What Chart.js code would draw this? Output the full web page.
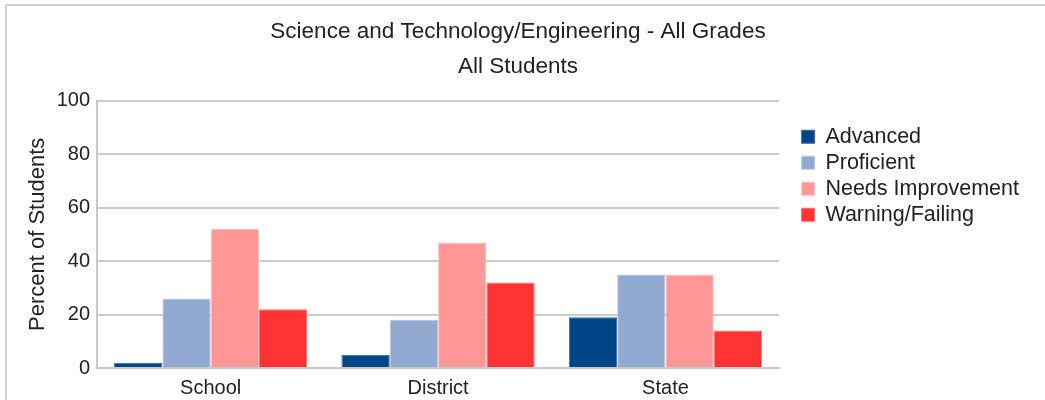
<!DOCTYPE html>
<html>
<head>
<meta charset="utf-8">
<script src="https://cdn.jsdelivr.net/npm/chart.js@4"></script>
<style>
  body { margin: 0; background: #fff; overflow: hidden; }
  #wrap { position: relative; width: 1045px; height: 400px; }
  #frame { position: absolute; left: 5px; top: 4px; width: 1100px; height: 500px;
           border: 2px solid #d2d2d2; pointer-events: none; }
</style>
</head>
<body>
<div id="wrap">
  <canvas id="scoreChart" width="1045" height="400"></canvas>
  <div id="frame"></div>
</div>
<script>
// chart data
const categories = ['School', 'District', 'State'];
const advanced = [2, 5, 19];
const proficient = [26, 18, 35];
const needsImprovement = [52, 47, 35];
const warningFailing = [22, 32, 14];
const yTicks = [0, 20, 40, 60, 80, 100];

const font = "'Liberation Sans', Arial, sans-serif";
Chart.defaults.font.family = font;
Chart.defaults.color = '#222';

// move the legend away from the plot area and down next to it
const legendGap = {
    id: 'legendGap',
    afterLayout: function(chart) {
        chart.legend.left += 18;
        chart.legend.right += 18;
        chart.legend.top += 107.5;
        chart.legend.bottom += 107.5;
    }
};

var ctx = document.getElementById('scoreChart').getContext('2d');
var scoreChart = new Chart(ctx, {
    type: 'bar',
    data: {
        labels: categories,
        datasets: [
            { label: 'Advanced', data: advanced, backgroundColor: '#004586', borderColor: '#3a6aa0' },
            { label: 'Proficient', data: proficient, backgroundColor: '#92a9cf', borderColor: '#b9c8e2' },
            { label: 'Needs Improvement', data: needsImprovement, backgroundColor: '#ff9797', borderColor: '#ffc2c2' },
            { label: 'Warning/Failing', data: warningFailing, backgroundColor: '#ff3333', borderColor: '#ff7070' }
        ]
    },
    plugins: [legendGap],
    options: {
        responsive: false,
        animation: false,
        layout: { padding: { top: 14, right: 34, bottom: 0, left: 25 } },
        datasets: { bar: { categoryPercentage: 0.85, barPercentage: 1, borderWidth: 1 } },
        plugins: {
            title: {
                display: true,
                text: ['Science and Technology/Engineering - All Grades', 'All Students'],
                font: { size: 22.5, weight: 'normal', lineHeight: 1.55 },
                color: '#222',
                padding: { top: 0, bottom: 17 }
            },
            legend: {
                position: 'right',
                align: 'start',
                labels: { boxWidth: 13, boxHeight: 13, padding: 4.5, font: { size: 21.5 }, color: '#222' }
            },
            tooltip: { enabled: false }
        },
        scales: {
            x: {
                grid: { display: false },
                border: { color: '#c8c8c8', width: 2 },
                ticks: { font: { size: 20 }, padding: 0 }
            },
            y: {
                min: 0,
                max: 100,
                afterBuildTicks: function(s) { s.ticks = yTicks.map(v => ({ value: v })); },
                afterFit: function(s) { s.width = 72; },
                grid: { color: '#cccccc', lineWidth: 2, drawTicks: false },
                border: { color: '#c8c8c8', width: 2 },
                ticks: { font: { size: 20 }, padding: 7 },
                title: { display: true, text: 'Percent of Students', font: { size: 22 }, padding: { top: 0, bottom: 6 } }
            }
        }
    }
});
</script>
</body>
</html>
